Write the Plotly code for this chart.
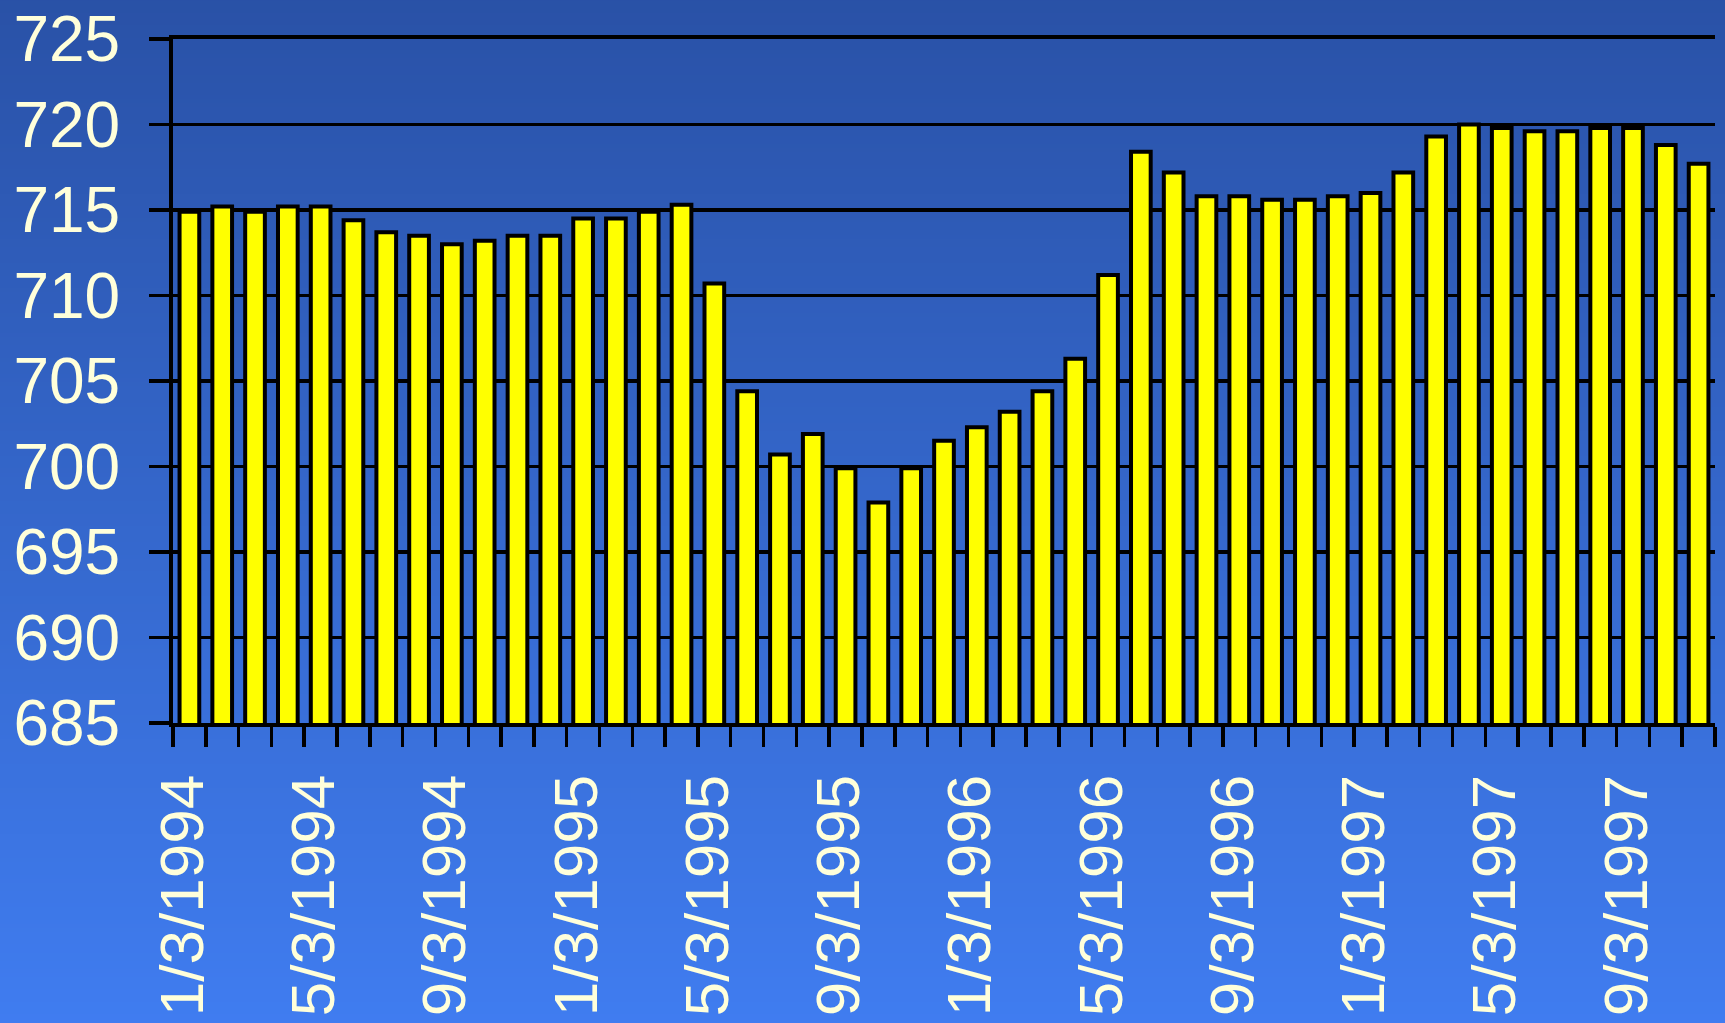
import base64, struct, zlib
import plotly.graph_objects as go

# ---- data ----
months = [f"{m}/3/{y}" for y in (1994, 1995, 1996, 1997) for m in range(1, 13)][:47]
values = [714.9, 715.2, 714.9, 715.2, 715.2, 714.4, 713.7, 713.5, 713.0, 713.2, 713.5, 713.5,
          714.5, 714.5, 714.9, 715.3, 710.7, 704.4, 700.7, 701.9, 699.9, 697.9, 699.9, 701.5,
          702.3, 703.2, 704.4, 706.3, 711.2, 718.4, 717.2, 715.8, 715.8, 715.6, 715.6, 715.8,
          716.0, 717.2, 719.3, 720.0, 719.8, 719.6, 719.6, 719.8, 719.8, 718.8, 717.7]
y_ticks = [685, 690, 695, 700, 705, 710, 715, 720, 725]
label_every = 4

# ---- layout geometry ----
W, H = 1725, 1023
ML, MR, MT, MB = 173, 10, 39, 300
PW, PH = W - ML - MR, H - MT - MB

# vertical gradient background as a tiny PNG
top = (41, 81, 166)
bot = (64, 125, 241)
n = 256
rows = b""
for i in range(n):
    t = i / (n - 1)
    c = bytes(int(round(top[k] + (bot[k] - top[k]) * t)) for k in range(3))
    rows += b"\x00" + c
def chunk(tag, data):
    return struct.pack(">I", len(data)) + tag + data + struct.pack(">I", zlib.crc32(tag + data) & 0xffffffff)
png = b"\x89PNG\r\n\x1a\n" + chunk(b"IHDR", struct.pack(">IIBBBBB", 1, n, 8, 2, 0, 0, 0)) \
      + chunk(b"IDAT", zlib.compress(rows)) + chunk(b"IEND", b"")
src = "data:image/png;base64," + base64.b64encode(png).decode()

xs = list(range(len(values)))
fig = go.Figure(go.Bar(
    x=xs, y=values,
    marker=dict(color="#FFFF00", line=dict(color="black", width=4)),
    width=0.6,
    hoverinfo="skip",
))

font_fam = "Arial, Liberation Sans, sans-serif"
txt_col = "#FFFFDA"

fig.update_layout(
    width=W, height=H,
    margin=dict(l=ML, r=MR, t=MT, b=MB, pad=0, autoexpand=False),
    paper_bgcolor="#3566C8",
    plot_bgcolor="rgba(0,0,0,0)",
    showlegend=False,
    images=[dict(source=src, xref="paper", yref="paper",
                 x=-ML / PW - 0.01, y=1 + MT / PH + 0.02, sizex=W / PW + 0.02, sizey=H / PH + 0.04,
                 xanchor="left", yanchor="top", sizing="stretch", layer="below")],
    xaxis=dict(
        automargin=False,
        range=[-0.5, len(values) - 0.5],
        tickmode="array",
        tickvals=[i - 0.2 for i in xs[::label_every]],
        ticktext=months[::label_every],
        tickangle=-90,
        ticks="",
        tickfont=dict(family=font_fam, size=62, color=txt_col),
        showgrid=False,
        showline=True, linecolor="black", linewidth=4, mirror=True,
        minor=dict(tick0=-0.5, dtick=1, ticks="outside", ticklen=20,
                   tickwidth=3.5, tickcolor="black", showgrid=False),
        zeroline=False,
        ticklabelstandoff=23,
    ),
    yaxis=dict(
        automargin=False,
        range=[685, 725],
        tickmode="array",
        tickvals=y_ticks,
        ticks="outside", ticklen=20, tickwidth=3.5, tickcolor="black",
        tickfont=dict(family=font_fam, size=64, color=txt_col),
        showgrid=True, gridcolor="black", gridwidth=3.8,
        showline=True, linecolor="black", linewidth=4,
        zeroline=False,
        ticklabelstandoff=16,
    ),
)

fig.write_html("out.html",
               config={"displayModeBar": False, "staticPlot": True},
               post_script="document.body.style.margin='0';document.body.style.overflow='hidden';")
